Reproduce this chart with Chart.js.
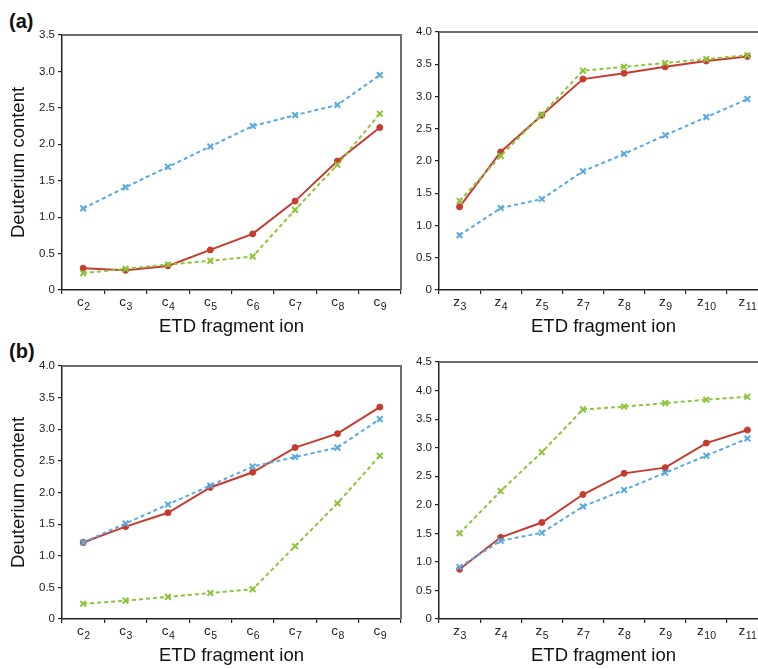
<!DOCTYPE html>
<html><head><meta charset="utf-8">
<script src="https://cdn.jsdelivr.net/npm/chart.js@4/dist/chart.umd.min.js"></script>
<style>
html,body{margin:0;padding:0;background:#fff;width:758px;height:669px;overflow:hidden;position:relative;font-family:"Liberation Sans",Arial,sans-serif}
canvas{position:absolute}
.lab{position:absolute;font-weight:bold;font-size:20px;color:#111;font-family:"Liberation Sans",Arial,sans-serif}
</style></head><body>
<div class="lab" style="left:9px;top:10px">(a)</div>
<div class="lab" style="left:9px;top:340px">(b)</div>
<canvas id="c1" width="410" height="345" style="left:0;top:0"></canvas>
<canvas id="c2" width="400" height="345" style="left:380px;top:0"></canvas>
<canvas id="c3" width="410" height="339" style="left:0;top:330px"></canvas>
<canvas id="c4" width="400" height="339" style="left:380px;top:330px"></canvas>
<script>
const cLabels = ['c2','c3','c4','c5','c6','c7','c8','c9'];
const zLabels = ['z3','z4','z5','z7','z8','z9','z10','z11'];

const a_c_red   = [0.30,0.27,0.33,0.55,0.77,1.22,1.77,2.23];
const a_c_blue  = [1.12,1.41,1.69,1.97,2.25,2.40,2.54,2.95];
const a_c_green = [0.23,0.29,0.35,0.40,0.46,1.10,1.72,2.42];

const a_z_red   = [1.29,2.14,2.71,3.27,3.36,3.46,3.55,3.62];
const a_z_blue  = [0.85,1.27,1.41,1.84,2.11,2.40,2.68,2.96];
const a_z_green = [1.38,2.08,2.72,3.40,3.46,3.52,3.58,3.64];

const b_c_red   = [1.21,1.46,1.68,2.08,2.32,2.71,2.93,3.35];
const b_c_blue  = [1.21,1.51,1.81,2.11,2.41,2.56,2.71,3.16];
const b_c_green = [0.24,0.29,0.35,0.41,0.47,1.15,1.83,2.58];

const b_z_red   = [0.87,1.43,1.69,2.18,2.55,2.65,3.08,3.31];
const b_z_blue  = [0.91,1.37,1.51,1.97,2.26,2.56,2.86,3.16];
const b_z_green = [1.50,2.24,2.92,3.67,3.72,3.78,3.84,3.89];

const yTitle = 'Deuterium content';
const xTitle = 'ETD fragment ion';

const RED = '#c73a2e', BLUE = '#5aaade', GREEN = '#8cc43c', AX = '#222';
const FONT = '"Liberation Sans", Arial, sans-serif';

const framePlugin = {
  id: 'frame',
  beforeDatasetsDraw(chart) {
    const {ctx, chartArea: a} = chart;
    ctx.save();
    ctx.strokeStyle = '#6e6e6e';
    ctx.lineWidth = 2;
    ctx.beginPath();
    ctx.moveTo(a.left, a.top);
    ctx.lineTo(a.right, a.top);
    ctx.lineTo(a.right, a.bottom);
    ctx.stroke();
    ctx.restore();
  }
};
const subLabelPlugin = {
  id: 'subLabels',
  afterDraw(chart) {
    const {ctx, chartArea: a} = chart;
    const xs = chart.scales.x;
    const labels = chart.data.labels;
    ctx.save();
    ctx.fillStyle = '#222';
    ctx.textBaseline = 'alphabetic';
    ctx.textAlign = 'left';
    labels.forEach((lab, i) => {
      const x = xs.getPixelForTick(i);
      const letter = lab[0], sub = lab.slice(1);
      ctx.font = '13.5px ' + FONT;
      const w1 = ctx.measureText(letter).width;
      ctx.font = '10.5px ' + FONT;
      const w2 = ctx.measureText(sub).width;
      const x0 = x - (w1 + w2) / 2;
      ctx.font = '13.5px ' + FONT;
      ctx.fillText(letter, x0, a.bottom + 16);
      ctx.font = '10.5px ' + FONT;
      ctx.fillText(sub, x0 + w1 + 0.5, a.bottom + 19.5);
    });
    ctx.restore();
  }
};

function makeChart(id, labels, red, blue, green, ymax, opts) {
  const ctx = document.getElementById(id);
  return new Chart(ctx, {
    type: 'line',
    data: {
      labels: labels,
      datasets: [
        {data: green, borderColor: GREEN, backgroundColor: GREEN, borderWidth: 2, borderDash: [4, 3],
         pointStyle: 'crossRot', pointRadius: 4, pointBorderWidth: 2, tension: 0, fill: false},
        {data: blue, borderColor: BLUE, backgroundColor: BLUE, borderWidth: 2, borderDash: [4, 3],
         pointStyle: 'crossRot', pointRadius: 4, pointBorderWidth: 2, tension: 0, fill: false},
        {data: red, borderColor: RED, backgroundColor: RED, borderWidth: 2,
         pointStyle: 'circle', pointRadius: 3, pointBorderWidth: 1, tension: 0, fill: false}
      ]
    },
    options: {
      responsive: false,
      animation: false,
      events: [],
      layout: {padding: {left: 0, right: opts.padRight, top: opts.padTop, bottom: 0}},
      plugins: {legend: {display: false}, tooltip: {enabled: false}},
      scales: {
        x: {
          type: 'category',
          offset: true,
          grid: {display: true, drawOnChartArea: false, drawTicks: true, tickLength: 4, color: AX, lineWidth: 1.2, offset: true},
          border: {display: true, color: AX, width: 1.5},
          ticks: {display: false},
          title: {display: true, text: xTitle, color: '#111', font: {family: FONT, size: 18.5}, padding: {top: 0, bottom: opts.xTitlePad}},
          afterFit(s) { s.height = opts.xHeight; }
        },
        y: {
          min: 0, max: ymax,
          grid: {display: true, drawOnChartArea: false, drawTicks: true, tickLength: 4, color: AX, lineWidth: 1.2},
          border: {display: true, color: AX, width: 1.5},
          ticks: {stepSize: 0.5, padding: 3, color: '#222', font: {family: FONT, size: 11.5},
                  callback: v => v === 0 ? '0' : v.toFixed(1)},
          title: {display: !!opts.yTitle, text: opts.yTitle || '', color: '#111', font: {family: FONT, size: 18.5}, padding: {top: 8, bottom: 0}},
          afterFit(s) { s.width = opts.yWidth; }
        }
      }
    },
    plugins: [framePlugin, subLabelPlugin]
  });
}

makeChart('c1', cLabels, a_c_red, a_c_blue, a_c_green, 3.5,
  {yTitle: yTitle, yWidth: 62, padRight: 9, padTop: 35, xHeight: 55, xTitlePad: 7});
makeChart('c2', zLabels, a_z_red, a_z_blue, a_z_green, 4.0,
  {yTitle: null, yWidth: 59, padRight: 12, padTop: 32, xHeight: 55, xTitlePad: 7});
makeChart('c3', cLabels, b_c_red, b_c_blue, b_c_green, 4.0,
  {yTitle: yTitle, yWidth: 62, padRight: 9, padTop: 36, xHeight: 50, xTitlePad: 2});
makeChart('c4', zLabels, b_z_red, b_z_blue, b_z_green, 4.5,
  {yTitle: null, yWidth: 59, padRight: 12, padTop: 32, xHeight: 50, xTitlePad: 2});
</script>
</body></html>
